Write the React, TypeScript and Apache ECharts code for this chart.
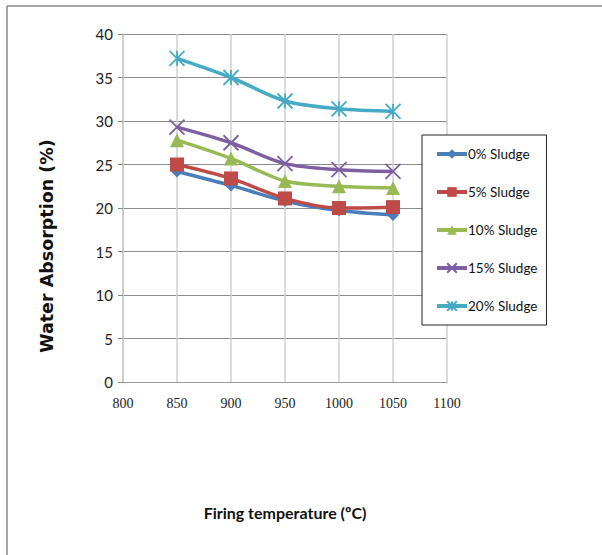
import React, { useEffect, useRef } from "react";
import * as echarts from "echarts";

const temperatures = [850, 900, 950, 1000, 1050];
const seriesNames = ["0% Sludge", "5% Sludge", "10% Sludge", "15% Sludge", "20% Sludge"];
const sludge0 = [24.2, 22.6, 20.8, 19.7, 19.2];
const sludge5 = [25.0, 23.4, 21.1, 20.0, 20.1];
const sludge10 = [27.8, 25.7, 23.1, 22.5, 22.3];
const sludge15 = [29.3, 27.5, 25.1, 24.4, 24.2];
const sludge20 = [37.2, 35.0, 32.3, 31.4, 31.1];
const seriesValues = [sludge0, sludge5, sludge10, sludge15, sludge20];
const colors = ["#4A7EBB", "#BE4B48", "#98B954", "#7D60A0", "#46AAC5"];
const xTitle = "Firing temperature (ºC)";
const yTitle = "Water Absorption (%)";

const X_PATH = "path://M0,0L10,10M10,0L0,10";
const STAR_PATH = "path://M0,0L10,10M10,0L0,10M5,0L5,10";

const NARROW = "Liberation Sans Narrow, Lato, Open Sans";

export default function App() {
  const ref = useRef<HTMLDivElement>(null);
  useEffect(() => {
    const chart = echarts.init(ref.current!, null, { renderer: "svg" });
    const symbols = ["diamond", "rect", "triangle", X_PATH, STAR_PATH];
    const sizes = [12, 14, 14, 15, 15];
    const series = seriesValues.map((vals, i) => {
      const stroked = i >= 3;
      return {
        name: seriesNames[i],
        type: "line",
        smooth: 0.3,
        data: temperatures.map((t, j) => [t, vals[j]]),
        symbol: symbols[i],
        symbolSize: sizes[i],
        showSymbol: true,
        lineStyle: { color: colors[i], width: 3.5 },
        itemStyle: stroked
          ? { color: "rgba(0,0,0,0)", borderColor: colors[i], borderWidth: 1.8 }
          : { color: colors[i], borderColor: colors[i], borderWidth: 0 },
        emphasis: { disabled: true },
        z: 2 + i,
      };
    });
    chart.setOption({
      animation: false,
      backgroundColor: "#fff",
      grid: { left: 123, top: 34, width: 324, height: 348, containLabel: false },
      xAxis: {
        type: "value",
        min: 800,
        max: 1100,
        interval: 50,
        axisLine: { show: true, lineStyle: { color: "#9a9a9a", width: 1 } },
        axisTick: { show: false },
        axisLabel: {
          color: "#222",
          fontFamily: "Liberation Serif",
          fontSize: 14,
          margin: 14,
          formatter: (v: number) => String(v),
        },
        splitLine: { show: true, lineStyle: { color: "#cfcfcf", width: 1.5 } },
        name: xTitle,
        nameLocation: "middle",
        nameGap: 122,
        nameTextStyle: {
          color: "#111",
          fontFamily: NARROW,
          fontSize: 16,
          fontWeight: "bold",
        },
      },
      yAxis: {
        type: "value",
        min: 0,
        max: 40,
        interval: 5,
        axisLine: { show: true, lineStyle: { color: "#c8c8c8", width: 1.5 } },
        axisTick: { show: true, length: 5, lineStyle: { color: "#888" } },
        axisLabel: {
          color: "#222",
          fontFamily: NARROW,
          fontSize: 15,
          margin: 10,
          formatter: (v: number) => String(v),
        },
        splitLine: { show: true, lineStyle: { color: "#8c8c8c", width: 1 } },
      },
      legend: {
        orient: "vertical",
        left: 422,
        top: 135,
        padding: [12, 9, 12, 13],
        itemGap: 24,
        itemWidth: 30,
        itemHeight: 12,
        borderColor: "#222",
        borderWidth: 1,
        backgroundColor: "#fff",
        lineStyle: { width: 4 },
        textStyle: {
          color: "#111",
          fontFamily: NARROW,
          fontSize: 13.5,
          padding: [0, 0, 0, -4],
        },
        data: seriesNames,
      },
      graphic: [
        { type: "line", shape: { x1: 7, y1: 6, x2: 602, y2: 6 }, style: { stroke: "#888", lineWidth: 1.5 } },
        { type: "line", shape: { x1: 7, y1: 6, x2: 7, y2: 555 }, style: { stroke: "#888", lineWidth: 1.5 } },
        {
          type: "text",
          x: 47,
          y: 246,
          rotation: Math.PI / 2,
          style: {
            text: yTitle,
            fill: "#111",
            font: "bold 17.5px DejaVu Sans",
            align: "center",
            verticalAlign: "middle",
          },
        },
      ],
      series,
    });
    return () => chart.dispose();
  }, []);
  return (
    <div
      ref={ref}
      style={{ position: "fixed", left: 0, top: 0, width: 602, height: 555 }}
    />
  );
}
